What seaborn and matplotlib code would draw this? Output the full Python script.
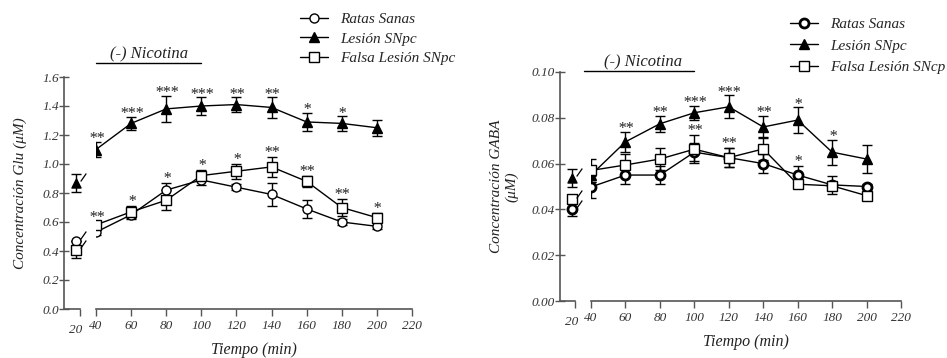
import numpy as np
import pandas as pd
import matplotlib
matplotlib.use("Agg")
import matplotlib.pyplot as plt
from matplotlib.transforms import offset_copy
import seaborn as sns

# ---------------- data ----------------
times = [40, 60, 80, 100, 120, 140, 160, 180, 200]
t0 = 20
groups = ["Ratas Sanas", "Lesión SNpc", "Falsa Lesión SNpc"]
groups_r = ["Ratas Sanas", "Lesión SNpc", "Falsa Lesión SNcp"]

# Glutamate (left)
glu_sanas = [0.53, 0.65, 0.82, 0.89, 0.84, 0.79, 0.69, 0.60, 0.57]
glu_sanas_err = [0.02, 0.03, 0.05, 0.035, 0.02, 0.08, 0.06, 0.02, 0.02]
glu_lesion = [1.10, 1.28, 1.38, 1.40, 1.41, 1.39, 1.29, 1.28, 1.25]
glu_lesion_err = [0.055, 0.045, 0.09, 0.06, 0.05, 0.07, 0.065, 0.05, 0.055]
glu_falsa = [0.58, 0.67, 0.75, 0.92, 0.95, 0.98, 0.88, 0.70, 0.63]
glu_falsa_err = [0.02, 0.04, 0.07, 0.04, 0.05, 0.07, 0.04, 0.06, 0.03]
glu_base = [0.47, 0.87, 0.41]
glu_base_err = [0.0, 0.06, 0.06]
glu_stars_top = ["**", "***", "***", "***", "**", "**", "*", "*", ""]
glu_stars_low = ["**", "*", "*", "*", "*", "**", "**", "**", "*"]

# GABA (right)
gaba_sanas = [0.0498, 0.055, 0.055, 0.065, 0.0626, 0.060, 0.055, 0.0507, 0.050]
gaba_sanas_err = [0.005, 0.004, 0.004, 0.004, 0.004, 0.004, 0.004, 0.004, 0.001]
gaba_lesion = [0.055, 0.0695, 0.0774, 0.0822, 0.0848, 0.076, 0.079, 0.065, 0.062]
gaba_lesion_err = [0.003, 0.0045, 0.0035, 0.003, 0.005, 0.005, 0.0055, 0.0055, 0.006]
gaba_falsa = [0.057, 0.0594, 0.062, 0.0663, 0.0626, 0.0664, 0.051, 0.0503, 0.046]
gaba_falsa_err = [0.005, 0.005, 0.005, 0.006, 0.004, 0.005, 0.001, 0.001, 0.001]
gaba_base = [0.040, 0.0538, 0.0445]
gaba_base_err = [0.003, 0.004, 0.0]
gaba_stars_top = ["", "**", "**", "***", "***", "**", "*", "*", ""]
gaba_stars_low = ["", "", "", "**", "**", "", "*", "", ""]

glu_yticks = [0.0, 0.2, 0.4, 0.6, 0.8, 1.0, 1.2, 1.4, 1.6]
gaba_yticks = [0.00, 0.02, 0.04, 0.06, 0.08, 0.10]
xticks = [40, 60, 80, 100, 120, 140, 160, 180, 200, 220]

# ---------------- style ----------------
sns.set_style("ticks")
plt.rcParams["font.family"] = ["Liberation Serif", "DejaVu Serif"]
plt.rcParams["font.style"] = "italic"
AX_COL = "#555555"
TXT_COL = "#333333"

W, H = 947, 358
fig = plt.figure(figsize=(W / 100, H / 100), dpi=100)


def px_rect(l, r, top, bot):
    return [l / W, 1 - bot / H, (r - l) / W, (bot - top) / H]


def panel(axA, axB, series, errs, base, base_err, names, ylim, yticks, yfmt,
          stars_top, stars_low, circ_mew, ylabel, ylab_x,
          legend_anchor, leg_spacing, nic_y, nic_text_y, nic_x0):
    markers = ["o", "^", "s"]
    fcs = ["white", "black", "white"]
    mews = [circ_mew, 1.0, 1.0]
    sizes = [6.5, 6.5, 6.5]
    slash_tr = offset_copy(axA.transData, fig=fig, x=5, y=4, units="points")
    for i in range(3):
        df = pd.DataFrame({"Tiempo": times, "valor": series[i]})
        axB.errorbar(times, series[i], yerr=errs[i], fmt="none", ecolor="black",
                     elinewidth=1.0, capsize=3.5, capthick=1.0, zorder=2)
        sns.lineplot(data=df, x="Tiempo", y="valor", ax=axB, color="black",
                     lw=1.0, marker=markers[i], markersize=sizes[i],
                     markerfacecolor=fcs[i], markeredgecolor="black",
                     markeredgewidth=mews[i], label=names[i], zorder=3 + i,
                     legend=False)
        # baseline point at 20
        axA.errorbar([t0], [base[i]], yerr=[base_err[i]], fmt="none",
                     ecolor="black", elinewidth=1.0, capsize=3.5, capthick=1.0,
                     zorder=2, clip_on=False)
        sns.scatterplot(x=[t0], y=[base[i]], ax=axA, marker=markers[i],
                        s=sizes[i] ** 2, facecolor=fcs[i], edgecolor="black",
                        linewidth=mews[i], zorder=3 + i, clip_on=False)
        # small discontinuity slash next to the baseline point
        axA.plot([t0], [base[i]], marker=(2, 0, -35), markersize=7,
                 markeredgewidth=0.9, color="black", linestyle="none",
                 transform=slash_tr, clip_on=False, zorder=6)

    # significance asterisks
    for j, t in enumerate(times):
        if stars_top[j]:
            axB.annotate(stars_top[j], xy=(t, series[1][j] + errs[1][j]),
                         xytext=(0, -1), textcoords="offset points",
                         ha="center", va="baseline", fontsize=11.5,
                         color="#222222")
        if stars_low[j]:
            top = max(series[0][j] + errs[0][j], series[2][j] + errs[2][j])
            axB.annotate(stars_low[j], xy=(t, top), xytext=(0, 0),
                         textcoords="offset points", ha="center",
                         va="baseline", fontsize=11.5, color="#222222")

    for ax in (axA, axB):
        ax.set_ylim(*ylim)
        ax.set_facecolor("none")
        for s in ("top", "right"):
            ax.spines[s].set_visible(False)
        ax.spines["bottom"].set_color(AX_COL)
        ax.spines["bottom"].set_linewidth(1.2)
        ax.set_xlabel("")
        ax.set_ylabel("")

    # narrow baseline axis (carries the y axis)
    axA.spines["left"].set_color(AX_COL)
    axA.spines["left"].set_linewidth(1.2)
    axA.set_yticks(yticks)
    axA.set_yticklabels([yfmt.format(v) for v in yticks])
    axA.tick_params(axis="y", direction="inout", length=7, width=1.0,
                    color=AX_COL, labelsize=9.5, labelcolor=TXT_COL, pad=0)
    axA.set_xticks([axA.get_xlim()[1]])
    axA.set_xticklabels([""])
    axA.set_xticks([axA.get_xlim()[1]], minor=True)
    axA.tick_params(axis="x", which="major", direction="out", length=5,
                    width=1.0, color=AX_COL)
    axA.tick_params(axis="x", which="minor", direction="in", length=5,
                    width=1.0, color=AX_COL)
    axA.text(t0, -0.065, "20", transform=axA.get_xaxis_transform(),
             ha="center", va="top", fontsize=9.5, color=TXT_COL)

    # main time axis
    axB.spines["left"].set_visible(False)
    axB.set_yticks([])
    axB.set_xlim(40, 220)
    axB.set_xticks(xticks)
    axB.set_xticks([40], minor=True)
    axB.tick_params(axis="x", which="major", direction="out", length=5,
                    width=1.0, color=AX_COL, labelsize=9.5,
                    labelcolor=TXT_COL, pad=3)
    axB.tick_params(axis="x", which="minor", direction="in", length=5,
                    width=1.0, color=AX_COL)
    axB.set_xlabel("Tiempo (min)", fontsize=11.5, color="#222222", labelpad=7)

    axA.set_ylabel(ylabel, fontsize=11, color="#222222", multialignment="center")
    axA.yaxis.set_label_coords(ylab_x, 0.5)

    # (-) Nicotina bar
    axB.plot([nic_x0, 100], [nic_y, nic_y], color="black", lw=1.0,
             clip_on=False)
    axB.text(70, nic_text_y, "(-) Nicotina", ha="center", va="bottom",
             fontsize=12, color="#222222")

    h, l = axB.get_legend_handles_labels()
    axB.legend(h, l, loc="upper left", bbox_to_anchor=legend_anchor,
               bbox_transform=fig.transFigure, frameon=False, fontsize=11,
               handlelength=1.8, handletextpad=0.8, labelspacing=leg_spacing,
               borderpad=0, borderaxespad=0)


# left panel axes
axA1 = fig.add_axes(px_rect(64, 80, 77, 309))
axA1.set_xlim(10, 23.3)
axB1 = fig.add_axes(px_rect(96, 412, 77, 309))
panel(axA1, axB1,
      [glu_sanas, glu_lesion, glu_falsa],
      [glu_sanas_err, glu_lesion_err, glu_falsa_err],
      glu_base, glu_base_err, groups, (0, 1.6), glu_yticks, "{:.1f}",
      glu_stars_top, glu_stars_low, 1.0,
      "Concentración Glu (μM)", -2.3,
      (300 / W, 1 - 12.5 / H), 0.38, 1.697, 1.701, 40)

# right panel axes
axA2 = fig.add_axes(px_rect(560, 575, 72, 301))
axA2.set_xlim(10, 22.5)
axB2 = fig.add_axes(px_rect(591, 901, 72, 301))
panel(axA2, axB2,
      [gaba_sanas, gaba_lesion, gaba_falsa],
      [gaba_sanas_err, gaba_lesion_err, gaba_falsa_err],
      gaba_base, gaba_base_err, groups_r, (0, 0.10), gaba_yticks, "{:.2f}",
      gaba_stars_top, gaba_stars_low, 2.0,
      "Concentración GABA\n(μM)", -2.75,
      (790 / W, 1 - 17.5 / H), 0.5, 0.1005, 0.1008, 36)

fig.savefig("out.png", dpi=100)
